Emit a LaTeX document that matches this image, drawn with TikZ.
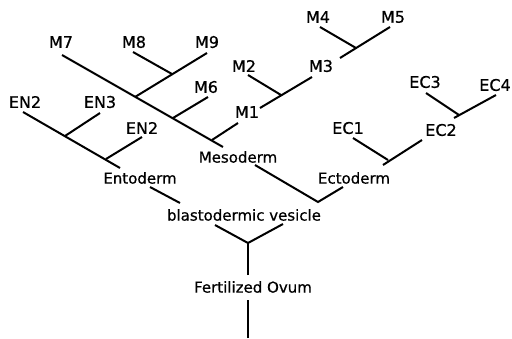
\documentclass[tikz,border=0pt]{standalone}
\usepackage{fontspec}
\setmainfont{DejaVu Sans}
\newfontfamily\lblfont{DejaVu Sans}[FakeBold=0.7]
\begin{document}
\begin{tikzpicture}[x=1pt,y=-1pt,
  lbl/.style={inner sep=0pt,font=\lblfont\fontsize{15}{16}\selectfont},
  tag/.style={inner sep=0pt,font=\lblfont\fontsize{16}{17}\selectfont},
  br/.style={line width=2pt,line cap=butt}]
\useasboundingbox (0,0) rectangle (512,338);
% labels
\node[tag] (M4) at (318,17) {M4};
\node[tag] (M5) at (393,17) {M5};
\node[tag] (M7) at (61,42) {M7};
\node[tag] (M8) at (134,42) {M8};
\node[tag] (M9) at (207,42) {M9};
\node[tag] (M2) at (244,66) {M2};
\node[tag] (M3) at (321,66) {M3};
\node[tag] (M6) at (206,87) {M6};
\node[tag] (EC3) at (425,82) {EC3};
\node[tag] (EC4) at (495,85) {EC4};
\node[tag] (EN2a) at (25,102) {EN2};
\node[tag] (EN3) at (100,102) {EN3};
\node[tag] (M1) at (247,112) {M1};
\node[tag] (EN2b) at (142,128) {EN2};
\node[tag] (EC1) at (348,128) {EC1};
\node[tag] (EC2) at (441,130) {EC2};
\node[lbl] (Meso) at (238,157) {Mesoderm};
\node[lbl] (Ento) at (140,178) {Entoderm};
\node[lbl] (Ecto) at (354,178) {Ectoderm};
\node[lbl] (Blast) at (244,215) {blastodermic vesicle};
\node[lbl] (Ovum) at (253,287) {Fertilized Ovum};
% coordinates
\coordinate (ov0) at (248,338);
\coordinate (ov1) at (248,300);
\coordinate (ov2) at (248,275);
\coordinate (j0) at (248,243);
\coordinate (b1) at (215,225);
\coordinate (b2) at (283,224);
\coordinate (en0) at (150,187);
\coordinate (en1) at (180,203);
\coordinate (j1) at (318,202);
\coordinate (me0) at (255,165);
\coordinate (ec0) at (343,187);
% entoderm branch
\coordinate (ena) at (23,112);
\coordinate (enb) at (120,168);
\coordinate (je1) at (65,136);
\coordinate (je2) at (106,159);
\coordinate (en3) at (100,113);
\coordinate (en2b) at (142,137);
% mesoderm branch
\coordinate (m7a) at (62,55);
\coordinate (m7b) at (223,147);
\coordinate (jm9) at (135,97);
\coordinate (jm6) at (173,118);
\coordinate (jm1) at (212,140);
\coordinate (m9a) at (207,53);
\coordinate (jm8) at (172,74);
\coordinate (m8a) at (133,52);
\coordinate (m6a) at (208,97);
\coordinate (m1a) at (238,123);
\coordinate (m3a) at (312,77);
\coordinate (m3b) at (260,108);
\coordinate (jm2) at (281,95);
\coordinate (m2a) at (248,75);
\coordinate (m5a) at (390,27);
\coordinate (m5b) at (340,58);
\coordinate (jm4) at (356,48);
\coordinate (m4a) at (320,27);
% ectoderm branch
\coordinate (ec2a) at (422,140);
\coordinate (ec2b) at (383,165);
\coordinate (jec1) at (388,160);
\coordinate (ec1a) at (353,138);
\coordinate (ec4a) at (496,95);
\coordinate (ec4b) at (454,118);
\coordinate (jec3) at (459,115);
\coordinate (ec3a) at (426,93);
% lines
\draw[br] (ov0) -- (ov1);
\draw[br] (ov2) -- (j0);
\draw[br] (b1) -- (j0) -- (b2);
\draw[br] (en0) -- (en1);
\draw[br] (me0) -- (j1) -- (ec0);
\draw[br] (ena) -- (enb);
\draw[br] (en3) -- (je1);
\draw[br] (en2b) -- (je2);
\draw[br] (m7a) -- (m7b);
\draw[br] (m9a) -- (jm9);
\draw[br] (m8a) -- (jm8);
\draw[br] (m6a) -- (jm6);
\draw[br] (m1a) -- (jm1);
\draw[br] (m3a) -- (m3b);
\draw[br] (m2a) -- (jm2);
\draw[br] (m5a) -- (m5b);
\draw[br] (m4a) -- (jm4);
\draw[br] (ec2a) -- (ec2b);
\draw[br] (ec1a) -- (jec1);
\draw[br] (ec4a) -- (ec4b);
\draw[br] (ec3a) -- (jec3);
\end{tikzpicture}
\end{document}
